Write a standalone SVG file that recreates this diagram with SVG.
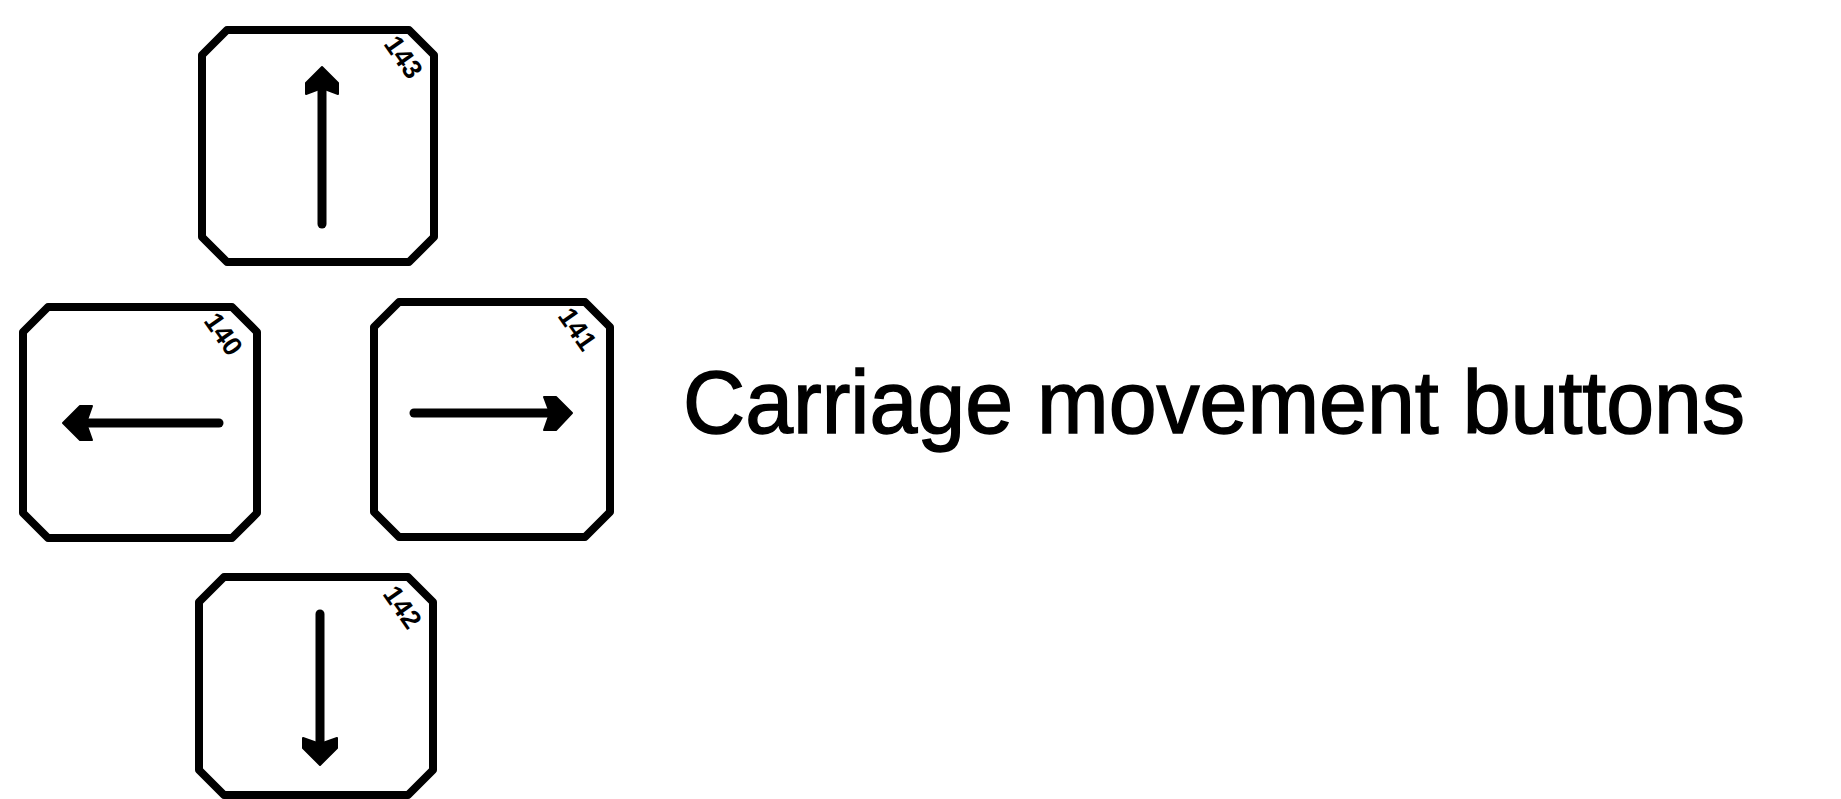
<svg xmlns="http://www.w3.org/2000/svg" width="1841" height="799" viewBox="0 0 1841 799">
<style>
.box{fill:#fff;stroke:#000;stroke-width:8;stroke-linejoin:round}
.shaft{stroke:#000;stroke-width:9;stroke-linecap:round;fill:none}
.head{fill:#000;stroke:#000;stroke-width:2;stroke-linejoin:round}
.num{font-family:"Liberation Sans",Arial,sans-serif;font-size:27px;font-weight:bold;fill:#000}
.label{font-family:"Liberation Sans",Arial,sans-serif;font-size:89px;fill:#000;stroke:#000;stroke-width:1.5}
</style>
<rect width="1841" height="799" fill="#fff"/>
<g id="btn-up">
<polygon class="box" points="227,30 409,30 434,55 434,237 409,262 227,262 202,237 202,55"/>
<line class="shaft" x1="322" y1="88" x2="322" y2="224"/>
<polygon class="head" points="322,67 338,83 338,94 322,88 306,94 306,83"/>
<text class="num" transform="translate(383,44) rotate(55)">143</text>
</g>
<g id="btn-left">
<polygon class="box" points="48,307 232,307 257,332 257,513 232,538 48,538 23,513 23,332"/>
<line class="shaft" x1="86" y1="423" x2="219" y2="423"/>
<polygon class="head" points="63,423 80,406 92,406 86,423 92,440 80,440"/>
<text class="num" transform="translate(203,321) rotate(55)">140</text>
</g>
<g id="btn-right">
<polygon class="box" points="399,302 585,302 610,327 610,512 585,537 399,537 374,512 374,327"/>
<line class="shaft" x1="414" y1="413" x2="550" y2="413"/>
<polygon class="head" points="572,413 556,397 544,397 550,413 544,430 556,430"/>
<text class="num" transform="translate(557,316) rotate(55)">141</text>
</g>
<g id="btn-down">
<polygon class="box" points="224,577 408,577 433,602 433,770 408,795 224,795 199,770 199,602"/>
<line class="shaft" x1="320" y1="614" x2="320" y2="744"/>
<polygon class="head" points="320,765 337,748 337,738 320,744 303,738 303,748"/>
<text class="num" transform="translate(382,594) rotate(55)">142</text>
</g>
<g id="connectors"></g>
<text class="label" x="683" y="433" textLength="1062" lengthAdjust="spacingAndGlyphs">Carriage movement buttons</text>
</svg>
